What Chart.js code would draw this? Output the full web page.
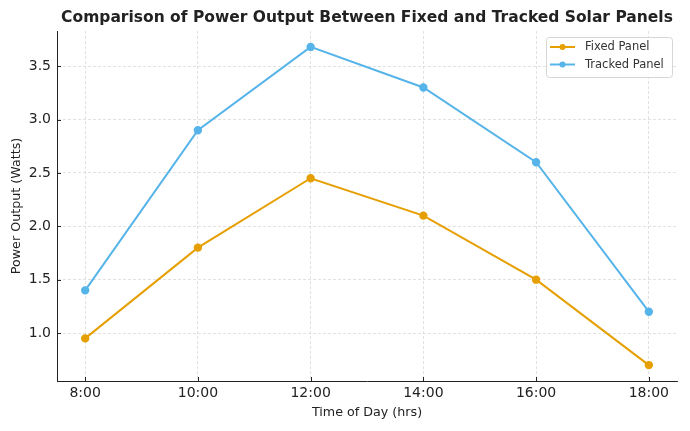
<!DOCTYPE html>
<html>
<head>
<meta charset="utf-8">
<script src="https://cdn.jsdelivr.net/npm/chart.js@4.4.1/dist/chart.umd.min.js"></script>
<style>
  html, body { margin: 0; padding: 0; background: #fff; }
  #wrap { width: 690px; height: 431px; }
</style>
</head>
<body>
<div id="wrap"><canvas id="chart" width="690" height="431"></canvas></div>
<script>
const hours = [8, 10, 12, 14, 16, 18];
const tickLabels = ["8:00", "10:00", "12:00", "14:00", "16:00", "18:00"];
const fixedPanel = [0.95, 1.8, 2.45, 2.1, 1.5, 0.7];
const trackedPanel = [1.4, 2.9, 3.68, 3.3, 2.6, 1.2];
const yTicks = [1.0, 1.5, 2.0, 2.5, 3.0, 3.5];

const FONT = "'DejaVu Sans', sans-serif";
const ORANGE = "#E69F00";
const BLUE = "#56B4E9";

const toPoints = (vals) => hours.map((h, i) => ({ x: h, y: vals[i] }));

// title, inward ticks and the boxed legend are drawn by hand
const extras = {
  id: "extras",
  afterDraw(chart) {
    const { ctx, chartArea: a, scales } = chart;
    ctx.save();
    // title centred over the plot area
    ctx.fillStyle = "#222";
    ctx.font = "bold 15.5px " + FONT;
    ctx.textAlign = "center";
    ctx.textBaseline = "middle";
    ctx.fillText("Comparison of Power Output Between Fixed and Tracked Solar Panels", (a.left + a.right) / 2, 18);

    // inward tick marks
    ctx.strokeStyle = "#222";
    ctx.lineWidth = 1;
    ctx.beginPath();
    yTicks.forEach(v => {
      const y = Math.round(scales.y.getPixelForValue(v)) + 0.5;
      ctx.moveTo(a.left, y); ctx.lineTo(a.left + 4, y);
    });
    hours.forEach(h => {
      const x = Math.round(scales.x.getPixelForValue(h)) + 0.5;
      ctx.moveTo(x, a.bottom); ctx.lineTo(x, a.bottom - 4);
    });
    ctx.stroke();

    // legend box
    const bx = 546, by = 37, bw = 126, bh = 40;
    ctx.fillStyle = "rgba(255,255,255,0.85)";
    ctx.strokeStyle = "#d6d6d6";
    ctx.lineWidth = 1;
    ctx.beginPath();
    ctx.roundRect(bx + 0.5, by + 0.5, bw, bh, 3);
    ctx.fill();
    ctx.stroke();
    ctx.font = "11.5px " + FONT;
    ctx.textAlign = "left";
    chart.data.datasets.forEach((ds, i) => {
      const y = by + 10 + i * 17.5;
      ctx.strokeStyle = ds.borderColor;
      ctx.lineWidth = 2;
      ctx.beginPath();
      ctx.moveTo(bx + 4, y); ctx.lineTo(bx + 29, y);
      ctx.stroke();
      ctx.fillStyle = ds.borderColor;
      ctx.beginPath();
      ctx.arc(bx + 16.5, y, 3, 0, Math.PI * 2);
      ctx.fill();
      ctx.fillStyle = "#333";
      ctx.fillText(ds.label, bx + 39, y + 0.5);
    });
    ctx.restore();
  }
};

new Chart(document.getElementById("chart"), {
  type: "line",
  data: {
    datasets: [
      { label: "Fixed Panel", data: toPoints(fixedPanel), borderColor: ORANGE, backgroundColor: ORANGE,
        borderWidth: 2, pointRadius: 3.2, pointHoverRadius: 3.2, tension: 0 },
      { label: "Tracked Panel", data: toPoints(trackedPanel), borderColor: BLUE, backgroundColor: BLUE,
        borderWidth: 2, pointRadius: 3.2, pointHoverRadius: 3.2, tension: 0 }
    ]
  },
  options: {
    responsive: false,
    animation: false,
    events: [],
    layout: { padding: { top: 31, right: 13, left: 0, bottom: 0 } },
    plugins: { legend: { display: false }, tooltip: { enabled: false }, title: { display: false } },
    scales: {
      x: {
        type: "linear",
        min: 7.5, max: 18.5,
        afterBuildTicks: (s) => { s.ticks = hours.map(h => ({ value: h })); },
        afterFit: (s) => { s.height = 50; },
        ticks: {
          color: "#222", font: { family: FONT, size: 14 }, padding: 4, maxRotation: 0,
          callback: (v) => tickLabels[hours.indexOf(v)] ?? ""
        },
        grid: { color: "#d9d9d9", lineWidth: 0.8, drawTicks: false },
        border: { display: true, color: "#222", width: 1, dash: [3, 2] },
        title: { display: true, text: "Time of Day (hrs)", color: "#222", font: { family: FONT, size: 12.7 }, padding: { top: 4, bottom: 11 } }
      },
      y: {
        min: 0.551, max: 3.829,
        afterBuildTicks: (s) => { s.ticks = yTicks.map(v => ({ value: v })); },
        afterFit: (s) => { s.width = 57; },
        ticks: {
          color: "#222", font: { family: FONT, size: 14 }, padding: 6,
          callback: (v) => v.toFixed(1)
        },
        grid: { color: "#d9d9d9", lineWidth: 0.8, drawTicks: false },
        border: { display: true, color: "#222", width: 1, dash: [3, 2] },
        title: { display: true, text: "Power Output (Watts)", color: "#222", font: { family: FONT, size: 12.7 }, padding: { top: 9, bottom: 0 } }
      }
    }
  },
  plugins: [extras]
});
</script>
</body>
</html>
